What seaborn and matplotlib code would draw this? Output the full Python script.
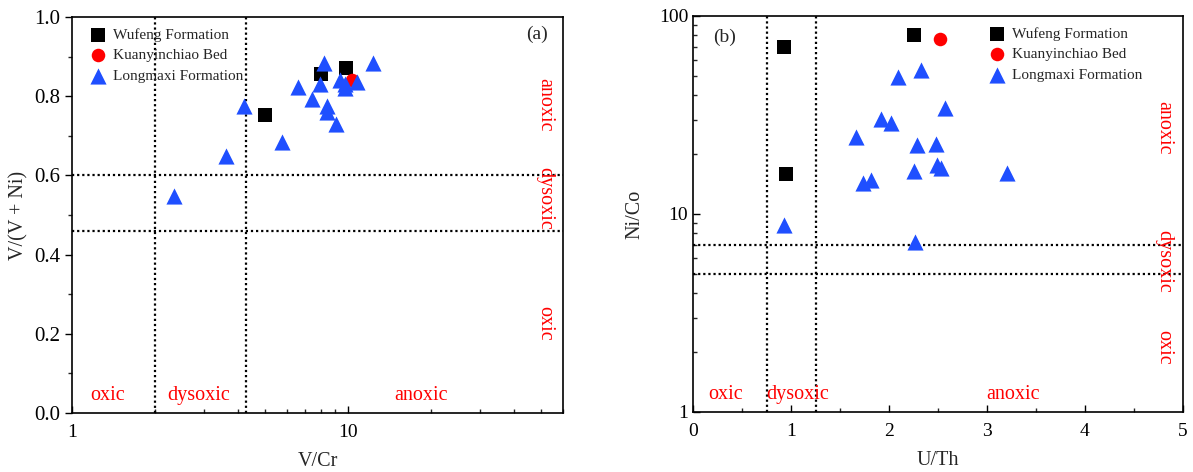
import numpy as np
import pandas as pd
import matplotlib
matplotlib.use("Agg")
import matplotlib.pyplot as plt
import matplotlib.ticker as mticker
import seaborn as sns

# ---------------- data ----------------
groups = ["Wufeng Formation", "Kuanyinchiao Bed", "Longmaxi Formation"]

# panel (a): V/Cr vs V/(V+Ni)
a_wufeng_x = [4.99, 8.0, 9.85]
a_wufeng_y = [0.752, 0.857, 0.870]
a_kuan_x = [10.3]
a_kuan_y = [0.840]
a_long_x = [2.34, 3.61, 4.19, 5.75, 6.57, 7.38, 8.15, 7.88, 8.36, 8.36, 9.01, 9.31, 9.71, 9.71, 10.8, 12.3]
a_long_y = [0.549, 0.648, 0.775, 0.684, 0.823, 0.792, 0.884, 0.830, 0.775, 0.760, 0.729, 0.841, 0.830, 0.820, 0.835, 0.884]

# panel (b): U/Th vs Ni/Co
b_wufeng_x = [0.93, 0.946, 2.25]
b_wufeng_y = [69.5, 15.9, 80.2]
b_kuan_x = [2.52]
b_kuan_y = [76.3]
b_long_x = [0.93, 1.66, 1.73, 1.82, 1.92, 2.02, 2.09, 2.33, 2.57, 2.29, 2.48, 2.26, 2.49, 2.53, 2.27, 3.20]
b_long_y = [8.8, 24.6, 14.4, 14.8, 30.1, 28.9, 49.0, 53.4, 34.2, 22.3, 22.5, 16.5, 17.7, 17.0, 7.25, 16.1]

# thresholds
a_vlines = [2.0, 4.25]
a_hlines = [0.46, 0.60]
b_vlines = [0.75, 1.25]
b_hlines = [5.0, 7.0]

# ---------------- style ----------------
sns.set_style("ticks")
plt.rcParams["font.family"] = ["Liberation Serif", "DejaVu Serif"]

colors = {"Wufeng Formation": "#000000", "Kuanyinchiao Bed": "#FF0000", "Longmaxi Formation": "#1F4FFF"}
markers = {"Wufeng Formation": "s", "Kuanyinchiao Bed": "o", "Longmaxi Formation": "^"}
msizes = {"Wufeng Formation": 105, "Kuanyinchiao Bed": 95, "Longmaxi Formation": 135}

fig = plt.figure(figsize=(11.93, 4.72), dpi=100)
axA = fig.add_axes([72 / 1193, 59 / 472, 491 / 1193, 396 / 472])
axB = fig.add_axes([693 / 1193, 60 / 472, 490 / 1193, 396 / 472])

dot = (0, (1.0, 1.3))
red = "#FF0000"
lab_fs = 14.5


def scatter_groups(ax, data):
    for g in groups:
        xs, ys = data[g]
        df = pd.DataFrame({"x": xs, "y": ys})
        sns.scatterplot(data=df, x="x", y="y", ax=ax, marker=markers[g], color=colors[g],
                        s=msizes[g], linewidth=0, label=g, zorder=3)


# ---------- panel (a) ----------
scatter_groups(axA, {
    "Wufeng Formation": (a_wufeng_x, a_wufeng_y),
    "Kuanyinchiao Bed": (a_kuan_x, a_kuan_y),
    "Longmaxi Formation": (a_long_x, a_long_y),
})
for v in a_vlines:
    axA.axvline(v, color="black", lw=1.6, ls=dot, zorder=1)
for h in a_hlines:
    axA.axhline(h, color="black", lw=1.6, ls=dot, zorder=1)
axA.set_xscale("log")
axA.set_xlim(1, 60)
axA.set_ylim(0, 1.0)
axA.xaxis.set_major_locator(mticker.FixedLocator([1, 10]))
axA.xaxis.set_major_formatter(mticker.FixedFormatter(["1", "10"]))
axA.xaxis.set_minor_locator(mticker.LogLocator(base=10, subs=np.arange(2, 10)))
axA.xaxis.set_minor_formatter(mticker.NullFormatter())
axA.yaxis.set_major_locator(mticker.MultipleLocator(0.2))
axA.yaxis.set_minor_locator(mticker.MultipleLocator(0.1))
axA.yaxis.set_major_formatter(mticker.FormatStrFormatter("%.1f"))
axA.tick_params(axis="x", which="both", direction="in")
axA.tick_params(axis="y", which="both", direction="out")
axA.set_xlabel("V/Cr", fontsize=lab_fs, labelpad=8)
axA.set_ylabel("V/(V + Ni)", fontsize=lab_fs, labelpad=4)

for txt, fx in [("oxic", 0.073), ("dysoxic", 0.257), ("anoxic", 0.711)]:
    axA.text(fx, 0.043, txt, color=red, fontsize=lab_fs, ha="center", va="center", transform=axA.transAxes)
for txt, fy in [("anoxic", 0.778), ("dysoxic", 0.543), ("oxic", 0.227)]:
    axA.text(0.963, fy, txt, color=red, fontsize=lab_fs, ha="center", va="center", rotation=-90,
             transform=axA.transAxes)
axA.text(0.947, 0.955, "(a)", fontsize=14, ha="center", va="center", transform=axA.transAxes)

# ---------- panel (b) ----------
scatter_groups(axB, {
    "Wufeng Formation": (b_wufeng_x, b_wufeng_y),
    "Kuanyinchiao Bed": (b_kuan_x, b_kuan_y),
    "Longmaxi Formation": (b_long_x, b_long_y),
})
for v in b_vlines:
    axB.axvline(v, color="black", lw=1.6, ls=dot, zorder=1)
for h in b_hlines:
    axB.axhline(h, color="black", lw=1.6, ls=dot, zorder=1)
axB.set_yscale("log")
axB.set_xlim(0, 5)
axB.set_ylim(1, 100)
axB.xaxis.set_major_locator(mticker.MultipleLocator(1))
axB.xaxis.set_minor_locator(mticker.MultipleLocator(0.5))
axB.yaxis.set_major_locator(mticker.FixedLocator([1, 10, 100]))
axB.yaxis.set_major_formatter(mticker.FixedFormatter(["1", "10", "100"]))
axB.yaxis.set_minor_locator(mticker.LogLocator(base=10, subs=np.arange(2, 10)))
axB.yaxis.set_minor_formatter(mticker.NullFormatter())
axB.tick_params(axis="both", which="both", direction="in")
axB.set_xlabel("U/Th", fontsize=lab_fs, labelpad=8)
axB.set_ylabel("Ni/Co", fontsize=lab_fs, labelpad=10)

for txt, fx in [("oxic", 0.067), ("dysoxic", 0.214), ("anoxic", 0.653)]:
    axB.text(fx, 0.043, txt, color=red, fontsize=lab_fs, ha="center", va="center", transform=axB.transAxes)
for txt, fy in [("anoxic", 0.717), ("dysoxic", 0.381), ("oxic", 0.164)]:
    axB.text(0.961, fy, txt, color=red, fontsize=lab_fs, ha="center", va="center", rotation=-90,
             transform=axB.transAxes)
axB.text(0.065, 0.947, "(b)", fontsize=14, ha="center", va="center", transform=axB.transAxes)

# ---------- common ----------
for ax, lx in [(axA, 0.037), (axB, 0.605)]:
    for sp in ax.spines.values():
        sp.set_visible(True)
        sp.set_linewidth(1.2)
        sp.set_color("black")
    ax.tick_params(axis="both", which="major", length=5, width=1.0, labelsize=14, colors="black")
    ax.tick_params(axis="both", which="minor", length=3, width=1.0)
    ax.tick_params(axis="x", which="major", pad=8)
    ax.legend(loc="upper left", bbox_to_anchor=(lx, 0.972), frameon=False, fontsize=11,
              handlelength=1.0, handletextpad=0.5, labelspacing=0.45, borderpad=0, borderaxespad=0)
axA.tick_params(axis="y", which="major", labelsize=15)

fig.savefig("out.png", dpi=100)
